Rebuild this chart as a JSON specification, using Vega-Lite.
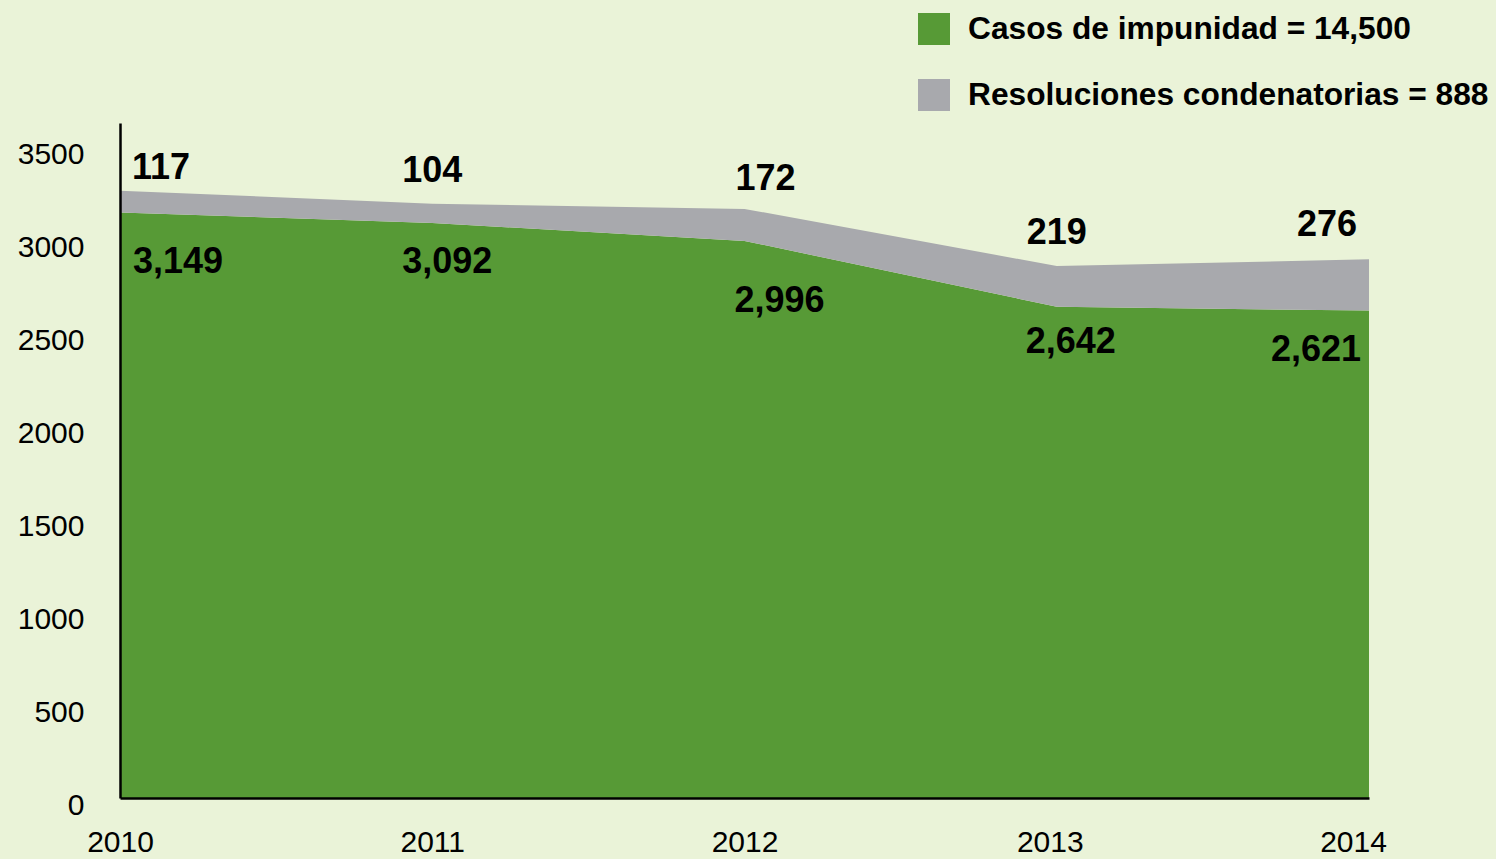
{
  "$schema": "https://vega.github.io/schema/vega-lite/v6.json",
  "autosize": "none",
  "width": 1249,
  "height": 675,
  "padding": {"left": 120, "top": 123, "right": 127, "bottom": 61},
  "background": "#EAF3D8",
  "config": {
    "view": {"stroke": null},
    "font": "Liberation Sans",
    "axis": {"labelFont": "Liberation Sans", "labelColor": "#000000", "domainColor": "#000000", "domainWidth": 2.5, "ticks": false, "grid": false, "title": null, "zindex": 1}
  },
  "data": {
    "values": [
      {"year": "2010", "serie": "Casos de impunidad = 14,500", "value": 3149},
      {"year": "2011", "serie": "Casos de impunidad = 14,500", "value": 3092},
      {"year": "2012", "serie": "Casos de impunidad = 14,500", "value": 2996},
      {"year": "2013", "serie": "Casos de impunidad = 14,500", "value": 2642},
      {"year": "2014", "serie": "Casos de impunidad = 14,500", "value": 2621},
      {"year": "2010", "serie": "Resoluciones condenatorias = 888", "value": 117},
      {"year": "2011", "serie": "Resoluciones condenatorias = 888", "value": 104},
      {"year": "2012", "serie": "Resoluciones condenatorias = 888", "value": 172},
      {"year": "2013", "serie": "Resoluciones condenatorias = 888", "value": 219},
      {"year": "2014", "serie": "Resoluciones condenatorias = 888", "value": 276}
    ]
  },
  "transform": [
    {"stack": "value", "groupby": ["year"], "sort": [{"field": "serie", "order": "ascending"}], "as": ["v0", "v1"]}
  ],
  "encoding": {
    "x": {"field": "year", "type": "ordinal", "scale": {"type": "point", "padding": 0},
      "axis": {"labelAngle": 0, "labelFontSize": 30, "labelPadding": 29, "domainWidth": 2.5, "zindex": 1,
        "labelOffset": {"condition": [{"test": "datum.value == '2014'", "value": -16}, {"test": "datum.value == '2013'", "value": -7}], "value": 0}}},
    "y": {"field": "v1", "type": "quantitative", "scale": {"domain": [0, 3630], "nice": false, "zero": true},
      "axis": {"values": [0, 500, 1000, 1500, 2000, 2500, 3000, 3500], "format": "d", "labelFontSize": 30, "labelPadding": 36, "labelOffset": 7, "domainWidth": 2.5, "zindex": 1}}
  },
  "layer": [
    {
      "mark": {"type": "area", "opacity": 1},
      "encoding": {
        "y2": {"field": "v0"},
        "color": {"field": "serie", "type": "nominal",
          "scale": {"domain": ["Casos de impunidad = 14,500", "Resoluciones condenatorias = 888"], "range": ["#579A36", "#A8A9AD"]},
          "legend": {"title": null, "orient": "none", "legendX": 798, "legendY": -110, "direction": "vertical",
            "symbolType": "square", "symbolSize": 1024, "symbolStrokeWidth": 0, "symbolOpacity": 1,
            "labelFontSize": 31.7, "labelFontWeight": "bold", "labelColor": "#000000", "labelOffset": 18,
            "rowPadding": 33, "padding": 0, "labelLimit": 700}
        }
      }
    },
    {
      "transform": [{"filter": "datum.serie == 'Resoluciones condenatorias = 888' && datum.year == '2010'"}],
      "mark": {"type": "text", "fontSize": 36, "fontWeight": "bold", "align": "left", "baseline": "middle", "dx": 12, "dy": -23, "color": "#000000"},
      "encoding": {"text": {"field": "value", "type": "quantitative", "format": ",d"}}
    },
    {
      "transform": [{"filter": "datum.serie == 'Resoluciones condenatorias = 888' && (datum.year == '2011' || datum.year == '2013')"}],
      "mark": {"type": "text", "fontSize": 36, "fontWeight": "bold", "align": "left", "baseline": "middle", "dx": -30, "dy": -33, "color": "#000000"},
      "encoding": {"text": {"field": "value", "type": "quantitative", "format": ",d"}}
    },
    {
      "transform": [{"filter": "datum.serie == 'Resoluciones condenatorias = 888' && datum.year == '2012'"}],
      "mark": {"type": "text", "fontSize": 36, "fontWeight": "bold", "align": "left", "baseline": "middle", "dx": -9, "dy": -30, "color": "#000000"},
      "encoding": {"text": {"field": "value", "type": "quantitative", "format": ",d"}}
    },
    {
      "transform": [{"filter": "datum.serie == 'Resoluciones condenatorias = 888' && datum.year == '2014'"}],
      "mark": {"type": "text", "fontSize": 36, "fontWeight": "bold", "align": "right", "baseline": "middle", "dx": -12, "dy": -34, "color": "#000000"},
      "encoding": {"text": {"field": "value", "type": "quantitative", "format": ",d"}}
    },
    {
      "transform": [{"filter": "datum.serie == 'Casos de impunidad = 14,500' && datum.year == '2010'"}],
      "mark": {"type": "text", "fontSize": 36, "fontWeight": "bold", "align": "left", "baseline": "middle", "dx": 13, "dy": 50, "color": "#000000"},
      "encoding": {"text": {"field": "value", "type": "quantitative", "format": ",d"}}
    },
    {
      "transform": [{"filter": "datum.serie == 'Casos de impunidad = 14,500' && datum.year == '2011'"}],
      "mark": {"type": "text", "fontSize": 36, "fontWeight": "bold", "align": "left", "baseline": "middle", "dx": -30, "dy": 39, "color": "#000000"},
      "encoding": {"text": {"field": "value", "type": "quantitative", "format": ",d"}}
    },
    {
      "transform": [{"filter": "datum.serie == 'Casos de impunidad = 14,500' && datum.year == '2012'"}],
      "mark": {"type": "text", "fontSize": 36, "fontWeight": "bold", "align": "left", "baseline": "middle", "dx": -10, "dy": 60, "color": "#000000"},
      "encoding": {"text": {"field": "value", "type": "quantitative", "format": ",d"}}
    },
    {
      "transform": [{"filter": "datum.serie == 'Casos de impunidad = 14,500' && datum.year == '2013'"}],
      "mark": {"type": "text", "fontSize": 36, "fontWeight": "bold", "align": "left", "baseline": "middle", "dx": -31, "dy": 35, "color": "#000000"},
      "encoding": {"text": {"field": "value", "type": "quantitative", "format": ",d"}}
    },
    {
      "transform": [{"filter": "datum.serie == 'Casos de impunidad = 14,500' && datum.year == '2014'"}],
      "mark": {"type": "text", "fontSize": 36, "fontWeight": "bold", "align": "right", "baseline": "middle", "dx": -8, "dy": 39, "color": "#000000"},
      "encoding": {"text": {"field": "value", "type": "quantitative", "format": ",d"}}
    }
  ]
}
